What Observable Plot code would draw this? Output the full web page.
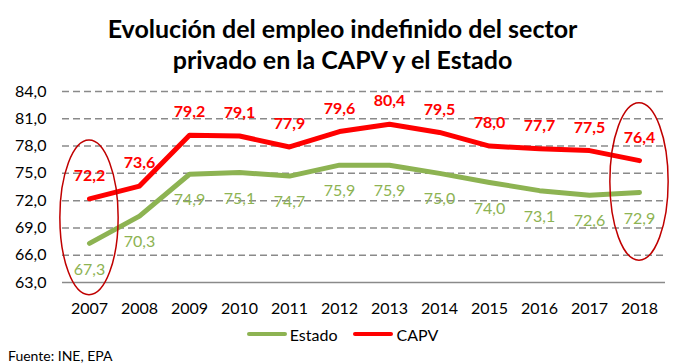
<!DOCTYPE html>
<html>
<head>
<meta charset="utf-8">
<script src="https://cdn.jsdelivr.net/npm/d3@7"></script>
<script src="https://cdn.jsdelivr.net/npm/@observablehq/plot@0.6"></script>
<style>
  html, body { margin: 0; padding: 0; background: #fff; }
  body { width: 685px; height: 364px; overflow: hidden; font-family: Lato, "Open Sans", sans-serif; color: #000; position: relative; }
  #title { position: absolute; left: 0; top: 13px; width: 685px; text-align: center; font-weight: bold; font-size: 25px; line-height: 31px; }
  #chart { position: absolute; left: 0; top: 80px; }
  #legend { position: absolute; left: 0; top: 323px; width: 685px; height: 22px; display: flex; justify-content: center; align-items: center; font-size: 16px; }
  .sw { display: inline-block; width: 40px; height: 4px; border-radius: 2px; margin-right: 3px; }
  .item { display: flex; align-items: center; margin: 0 8px; }
  #source { position: absolute; left: 8px; top: 347px; font-size: 14px; }
</style>
</head>
<body>
<div id="title">Evolución del empleo indefinido del sector<br>privado en la CAPV y el Estado</div>
<div id="chart"></div>
<div id="legend"></div>
<div id="source">Fuente: INE, EPA</div>
<script>
const years = [2007, 2008, 2009, 2010, 2011, 2012, 2013, 2014, 2015, 2016, 2017, 2018];
const estado = [67.3, 70.3, 74.9, 75.1, 74.7, 75.9, 75.9, 75.0, 74.0, 73.1, 72.6, 72.9];
const capv = [72.2, 73.6, 79.2, 79.1, 77.9, 79.6, 80.4, 79.5, 78.0, 77.7, 77.5, 76.4];
const yTicks = [63, 66, 69, 72, 75, 78, 81, 84];
const seriesNames = ["Estado", "CAPV"];
const seriesColors = ["#8db352", "#ff0000"];
// highlighted years (ellipses): year, top value, bottom value
const highlightYears = [2007, 2018];
const highlightTop = [78.6, 82.7];
const highlightBottom = [61.6, 65.4];

const fmt = d => d.toFixed(1).replace(".", ",");
const estadoRows = years.map((y, i) => ({year: y, v: estado[i]}));
const capvRows = years.map((y, i) => ({year: y, v: capv[i]}));
const highlights = highlightYears.map((y, i) => ({year: y, top: highlightTop[i], bottom: highlightBottom[i]}));

function ellipseMark(index, scales, values, dimensions) {
  const g = d3.create("svg:g");
  const step = (dimensions.width - dimensions.marginLeft - dimensions.marginRight) / years.length;
  for (const h of highlights) {
    const cx = scales.x(h.year);
    const y1 = scales.y(h.top), y2 = scales.y(h.bottom);
    g.append("ellipse")
      .attr("cx", cx).attr("cy", (y1 + y2) / 2)
      .attr("rx", step * 0.58).attr("ry", Math.abs(y2 - y1) / 2)
      .attr("fill", "none").attr("stroke", "#c00000").attr("stroke-width", 1.5);
  }
  return g.node();
}

const plot = Plot.plot({
  width: 685,
  height: 235,
  marginTop: 11,
  marginBottom: 33,
  marginLeft: 62,
  marginRight: 20,
  style: {fontFamily: "Lato, 'Open Sans', sans-serif", fontSize: "16px", color: "#000", background: "transparent", overflow: "visible"},
  x: {type: "point", domain: years, padding: 0.5, label: null},
  y: {domain: [63, 84], label: null},
  marks: [
    Plot.ruleY(yTicks.filter(t => t > 63), {stroke: "#8a8a8a", strokeWidth: 1.5, strokeDasharray: "7,4", strokeOpacity: 1}),
    Plot.ruleY([63], {stroke: "#8a8a8a", strokeWidth: 1.5, strokeOpacity: 1}),
    Plot.axisY({ticks: yTicks, tickSize: 0, tickPadding: 16, tickFormat: fmt, fontSize: 16, label: null}),
    Plot.axisX({tickSize: 0, tickPadding: 20, tickFormat: d => String(d), fontSize: 16, label: null}),
    Plot.lineY(estadoRows, {x: "year", y: "v", stroke: seriesColors[0], strokeWidth: 5}),
    Plot.lineY(capvRows, {x: "year", y: "v", stroke: seriesColors[1], strokeWidth: 5}),
    Plot.text(capvRows, {x: "year", y: "v", text: d => fmt(d.v), dy: -23, fill: seriesColors[1], fontSize: 16, fontWeight: "bold"}),
    Plot.text(estadoRows, {x: "year", y: "v", text: d => fmt(d.v), dy: 26, fill: seriesColors[0], fontSize: 16}),
    ellipseMark
  ]
});
document.getElementById("chart").appendChild(plot);

const legend = document.getElementById("legend");
seriesNames.forEach((n, i) => {
  const it = document.createElement("span");
  it.className = "item";
  it.innerHTML = `<span class="sw" style="background:${seriesColors[i]}"></span>${n}`;
  legend.appendChild(it);
});
</script>
</body>
</html>
